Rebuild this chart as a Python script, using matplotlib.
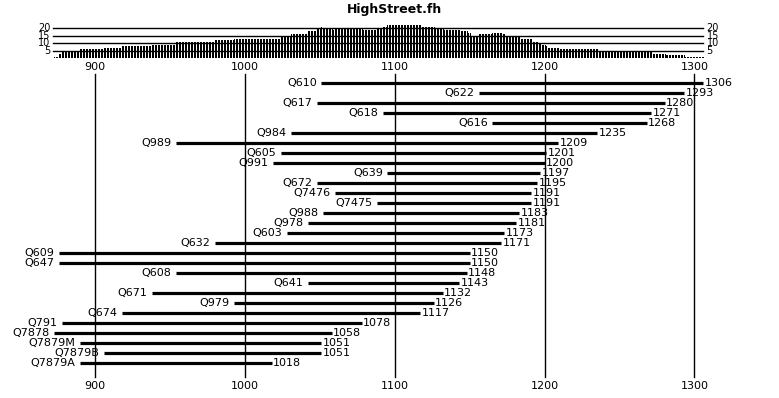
import numpy as np
import matplotlib
matplotlib.use("Agg")
import matplotlib.pyplot as plt

names = ["Q610", "Q622", "Q617", "Q618", "Q616", "Q984", "Q989", "Q605", "Q991",
         "Q639", "Q672", "Q7476", "Q7475", "Q988", "Q978", "Q603", "Q632", "Q609",
         "Q647", "Q608", "Q641", "Q671", "Q979", "Q674", "Q791", "Q7878",
         "Q7879M", "Q7879B", "Q7879A"]
starts = [1051, 1156, 1048, 1092, 1165, 1031, 954, 1024, 1019,
          1095, 1048, 1060, 1088, 1052, 1042, 1028, 980, 876,
          876, 954, 1042, 938, 993, 918, 878, 873,
          890, 906, 890]
ends = [1306, 1293, 1280, 1271, 1268, 1235, 1209, 1201, 1200,
        1197, 1195, 1191, 1191, 1183, 1181, 1173, 1171, 1150,
        1150, 1148, 1143, 1132, 1126, 1117, 1078, 1058,
        1051, 1051, 1018]
decades = [900, 1000, 1100, 1200, 1300]
depth_levels = [5, 10, 15, 20]
title = "HighStreet.fh"

W, H = 779, 398
fig = plt.figure(figsize=(W / 100, H / 100), dpi=100)

# pixel -> year mapping: 900 at x=94.5, 1.5 px per year
x0 = 900 - 94.5 / 1.5
x1 = x0 + W / 1.5

# main panel, rows 10 px apart, first row at y=83.3
ax = fig.add_axes([0, 0, 1, 1])
ax.set_xlim(x0, x1)
ax.set_ylim((H - 83.3) / 10, -83.3 / 10)
ax.axis("off")

for yr in decades:
    ax.plot([yr, yr], [-0.93, 29.33], color="black", lw=1.0, zorder=1)
    ax.text(yr, -1.6, str(yr), ha="center", va="center", fontsize=8)
    ax.text(yr, 30.25, str(yr), ha="center", va="center", fontsize=8)

for i, (nm, s, e) in enumerate(zip(names, starts, ends)):
    ax.plot([s, e], [i, i], color="black", lw=2.3, solid_capstyle="butt", zorder=2)
    ax.annotate(nm, (s, i), xytext=(-3, 0), textcoords="offset points",
                ha="right", va="center", fontsize=8)
    ax.annotate(str(e), (e, i), xytext=(1, 0), textcoords="offset points",
                ha="left", va="center", fontsize=8)

fig.text(395 / W, 1 - 10 / H, title, ha="center", va="center",
         fontsize=9, fontweight="bold")

# sample depth histogram on top
base_px, top_px = 58.3, 23.3
axh = fig.add_axes([0, (H - base_px) / H, 1, (base_px - top_px) / H])
axh.set_xlim(x0, x1)
axh.set_ylim(0, (base_px - top_px) / 1.5)
axh.axis("off")

years = np.arange(min(starts), max(ends) + 1)
st = np.array(starts)
en = np.array(ends)
depth = [int(((st <= y) & (en >= y)).sum()) for y in years]

lx0, lx1 = min(starts) - 1, max(ends)
for lv in depth_levels:
    axh.plot([lx0, lx1], [lv, lv], color="black", lw=1.0, zorder=1)
    axh.text(lx0 - 1.5, lv, str(lv), ha="right", va="center", fontsize=7)
    axh.text(lx1 + 2, lv, str(lv), ha="left", va="center", fontsize=7)

# one 1-px stroke per year; at 1.5 px/year this leaves thin white gaps
axh.vlines(years, 0, depth, color="black", linewidth=0.72,
           antialiased=False, zorder=2)

fig.savefig("out.png", dpi=100)
